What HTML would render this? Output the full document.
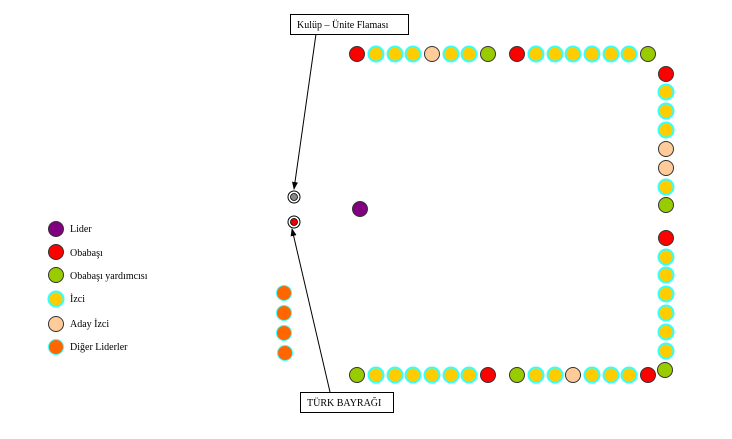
<!DOCTYPE html>
<html><head><meta charset="utf-8"><style>
body{margin:0;background:#fff;width:732px;height:434px;overflow:hidden}
</style></head><body>
<svg width="732" height="434" xmlns="http://www.w3.org/2000/svg" font-family="Liberation Serif, serif" font-size="10">
<defs>
<marker id="a" markerWidth="8" markerHeight="8" refX="7" refY="4" orient="auto" markerUnits="userSpaceOnUse"><path d="M0,1 L8,4 L0,7 z" fill="#000"/></marker>
<g id="R"><circle r="7.5" fill="#f00" stroke="#333" stroke-width="1"/></g>
<g id="G"><circle r="7.5" fill="#99cc00" stroke="#333" stroke-width="1"/></g>
<g id="I"><circle r="7.5" fill="#ffcc00" stroke="#33ffff" stroke-width="2"/></g>
<g id="A"><circle r="7.5" fill="#ffcc99" stroke="#333" stroke-width="1"/></g>
<g id="O"><circle r="7.5" fill="#ff6600" stroke="#33ffff" stroke-width="1"/></g>
<g id="P"><circle r="7.5" fill="#800080" stroke="#333" stroke-width="1"/></g>
</defs>
<!-- top row -->
<use href="#R" x="357" y="54"/><use href="#I" x="376" y="54"/><use href="#I" x="395" y="54"/><use href="#I" x="413" y="54"/><use href="#A" x="432" y="54"/><use href="#I" x="451" y="54"/><use href="#I" x="469" y="54"/><use href="#G" x="488" y="54"/>
<use href="#R" x="517" y="54"/><use href="#I" x="536" y="54"/><use href="#I" x="555" y="54"/><use href="#I" x="573" y="54"/><use href="#I" x="592" y="54"/><use href="#I" x="611" y="54"/><use href="#I" x="629" y="54"/><use href="#G" x="648" y="54"/>
<!-- right column -->
<use href="#R" x="666" y="74"/><use href="#I" x="666" y="92"/><use href="#I" x="666" y="111"/><use href="#I" x="666" y="130"/><use href="#A" x="666" y="149"/><use href="#A" x="666" y="168"/><use href="#I" x="666" y="187"/><use href="#G" x="666" y="205"/>
<use href="#R" x="666" y="238"/><use href="#I" x="666" y="257"/><use href="#I" x="666" y="275"/><use href="#I" x="666" y="294"/><use href="#I" x="666" y="313"/><use href="#I" x="666" y="332"/><use href="#I" x="666" y="351"/><use href="#G" x="665" y="370"/>
<!-- bottom row -->
<use href="#G" x="357" y="375"/><use href="#I" x="376" y="375"/><use href="#I" x="395" y="375"/><use href="#I" x="413" y="375"/><use href="#I" x="432" y="375"/><use href="#I" x="451" y="375"/><use href="#I" x="469" y="375"/><use href="#R" x="488" y="375"/>
<use href="#G" x="517" y="375"/><use href="#I" x="536" y="375"/><use href="#I" x="555" y="375"/><use href="#A" x="573" y="375"/><use href="#I" x="592" y="375"/><use href="#I" x="611" y="375"/><use href="#I" x="629" y="375"/><use href="#R" x="648" y="375"/>
<!-- leader -->
<use href="#P" x="360" y="209"/>
<!-- other leaders -->
<use href="#O" x="284" y="293"/><use href="#O" x="284" y="313"/><use href="#O" x="284" y="333"/><use href="#O" x="285" y="353"/>
<!-- flags -->
<circle cx="294" cy="197" r="6" fill="#fff" stroke="#000"/><circle cx="294" cy="197" r="3.5" fill="#888" stroke="#000" stroke-width=".8"/>
<circle cx="294" cy="222" r="6" fill="#fff" stroke="#000"/><circle cx="294" cy="222" r="3.5" fill="#e00" stroke="#000" stroke-width=".8"/>
<!-- lines -->
<line x1="316" y1="34" x2="294" y2="189" stroke="#000" marker-end="url(#a)"/>
<line x1="330" y1="392" x2="292" y2="229" stroke="#000" marker-end="url(#a)"/>
<!-- labels -->
<rect x="290.5" y="14.5" width="118" height="20" fill="#fff" stroke="#000"/>
<text x="297" y="28">Kulüp – Ünite Flaması</text>
<rect x="300.5" y="392.5" width="93" height="20" fill="#fff" stroke="#000"/>
<text x="307" y="406">TÜRK BAYRAĞI</text>
<!-- legend -->
<use href="#P" x="56" y="229"/><text x="70" y="232">Lider</text>
<use href="#R" x="56" y="252"/><text x="70" y="256">Obabaşı</text>
<use href="#G" x="56" y="275"/><text x="70" y="279">Obabaşı yardımcısı</text>
<use href="#I" x="56" y="299"/><text x="70" y="302">İzci</text>
<use href="#A" x="56" y="324"/><text x="70" y="327">Aday İzci</text>
<use href="#O" x="56" y="347"/><text x="70" y="350">Diğer Liderler</text>
</svg>
</body></html>
